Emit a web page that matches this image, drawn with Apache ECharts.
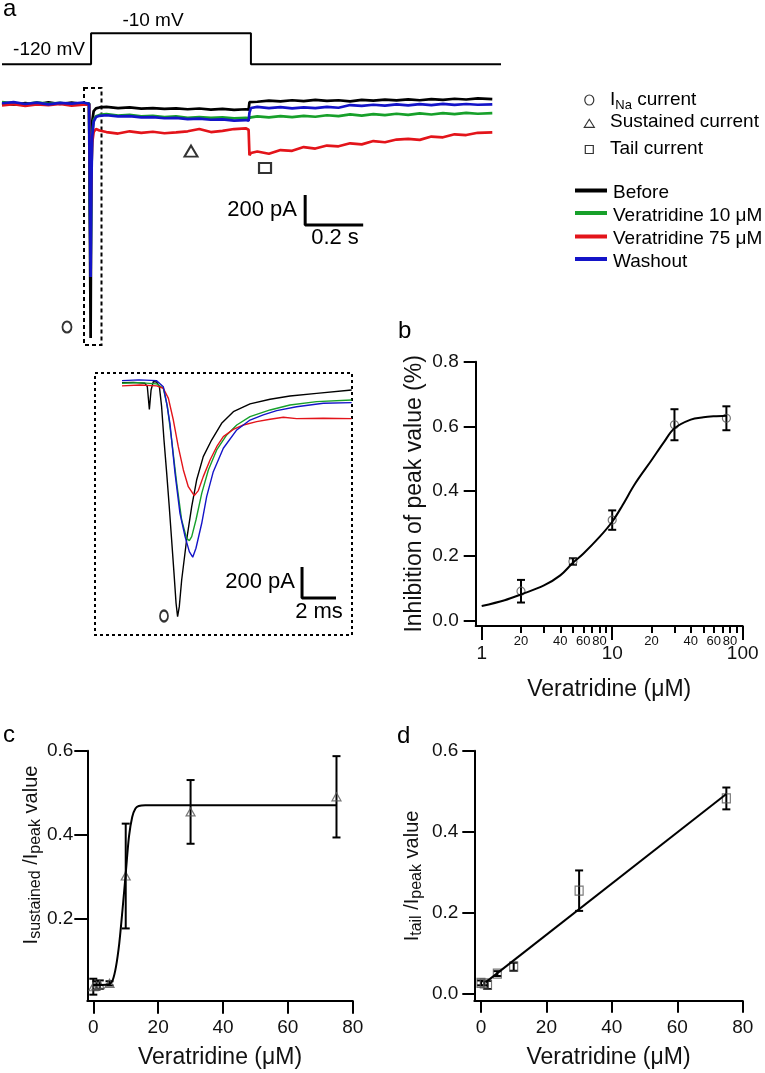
<!DOCTYPE html>
<html><head><meta charset="utf-8">
<script src="https://cdn.jsdelivr.net/npm/echarts@6/dist/echarts.min.js"></script>
<style>html,body{margin:0;padding:0;background:#fff}#c{width:765px;height:1073px}</style>
</head><body><div id="c"></div><script>
const FF = '"Liberation Sans", Arial, Helvetica, sans-serif';

// ---------- Panel a: voltage protocol (s, mV)
const protocolT = [0, 0.307, 0.307, 0.858, 0.858, 1.72];
const protocolV = [-120, -120, -10, -10, -120, -120];

// ---------- Panel a: whole-sweep currents (time s, current pA)
const traceT = [0, 0.04, 0.08, 0.12, 0.16, 0.20, 0.24, 0.28, 0.300,
  0.303, 0.3055, 0.308, 0.311, 0.316, 0.324, 0.336,
  0.36, 0.40, 0.44, 0.48, 0.52, 0.56, 0.60, 0.64, 0.68, 0.72, 0.76, 0.80, 0.84, 0.850,
  0.853, 0.858, 0.88, 0.92, 0.96, 1.00, 1.04, 1.08, 1.12, 1.16, 1.20, 1.24, 1.28, 1.32, 1.36, 1.40, 1.44, 1.48, 1.52, 1.56, 1.60, 1.64, 1.69];
const beforeI = [5, -8, 3, -5, 8, -3, 6, -4, 2,
  0, -1563, -400, -120, -50, -32, -26,
  -22, -30, -26, -34, -30, -36, -32, -38, -33, -40, -35, -42, -38, -40,
  10, 18, 12, 20, 14, 22, 16, 24, 18, 22, 15, 24, 20, 26, 21, 28, 22, 30, 25, 32, 27, 34, 30];
const vera10I = [10, 2, -6, 8, -2, 5, -7, 3, 0,
  0, -1055, -500, -200, -110, -85, -76,
  -70, -80, -76, -85, -82, -90, -86, -95, -90, -96, -92, -98, -95, -97,
  -95, -92, -85, -92, -84, -90, -82, -88, -78, -84, -72, -80, -70, -77, -68, -75, -66, -73, -64, -70, -62, -68, -64];
const vera75I = [-12, -4, -15, -6, -10, -3, -14, -8, -5,
  0, -755, -450, -260, -190, -170, -180,
  -190, -200, -185, -195, -188, -198, -192, -185, -170, -190, -182, -170, -165, -175,
  -345, -330, -320, -335, -310, -315, -290, -300, -280, -285, -265, -272, -250, -258, -240, -235, -242, -220, -225, -205, -210, -195, -192];
const washoutI = [2, 9, -3, 6, -6, 4, 0, 7, -2,
  0, -1157, -550, -220, -120, -90, -82,
  -78, -86, -84, -92, -90, -98, -96, -104, -100, -108, -106, -114, -110, -115,
  -60, -30, -22, -30, -24, -32, -25, -30, -22, -28, -10, -16, -8, -14, -6, -12, -4, -10, -2, -9, -3, -8, -5];

// ---------- Panel a inset: peak currents (time ms, current pA)
const insBeforeT = [0, 0.67, 1.35, 1.49, 1.61, 1.71, 1.84, 2.04, 2.20, 2.33, 2.47, 2.63, 2.78, 2.92, 3.06, 3.18, 3.27, 3.37, 3.51, 3.80, 4.10, 4.39, 4.78, 5.27, 5.86, 6.55, 7.53, 8.71, 9.88, 11.45, 13.51];
const insBeforeI = [2, 4, -2, -24, -170, -45, 9, 6, -24, -153, -368, -583, -798, -1013, -1228, -1421, -1507, -1443, -1271, -1013, -798, -626, -475, -368, -260, -185, -135, -105, -84, -67, -45];
const insVera10T = [0, 1.0, 2.04, 2.43, 2.67, 2.92, 3.22, 3.51, 3.80, 3.96, 4.10, 4.35, 4.69, 5.08, 5.57, 6.16, 6.75, 7.53, 8.71, 9.88, 11.45, 13.51];
const insVera10I = [-2, 2, -6, -34, -153, -368, -647, -884, -1002, -1017, -991, -884, -712, -561, -432, -335, -271, -217, -174, -142, -120, -110];
const insVera75T = [0, 1.06, 2.04, 2.43, 2.73, 3.02, 3.31, 3.61, 3.90, 4.25, 4.49, 4.78, 5.18, 5.57, 5.96, 6.55, 7.14, 7.92, 8.71, 9.49, 10.27, 11.84, 13.51];
const insVera75I = [-19, -13, -19, -34, -99, -239, -411, -561, -669, -727, -694, -604, -497, -411, -346, -299, -271, -249, -234, -221, -230, -228, -230];
const insWashT = [0, 1.0, 2.04, 2.43, 2.63, 2.82, 3.12, 3.41, 3.71, 3.96, 4.16, 4.35, 4.69, 4.98, 5.37, 5.96, 6.75, 7.53, 8.31, 9.10, 10.27, 11.84, 13.51];
const insWashI = [15, 20, 15, -24, -131, -260, -583, -841, -991, -1088, -1124, -1066, -905, -733, -572, -421, -303, -239, -206, -178, -153, -131, -127];

// scale bars: [origin time, origin current, time length, current length]
const scaleMain = [1.045, -810, 0.2, 200];
const scaleInset = [10.59, -1387, 2, 200];

// ---------- Panel b
const concB = [2, 5, 10, 30, 75];
const inhibB = [0.09, 0.182, 0.31, 0.605, 0.625];
const errB = [0.035, 0.01, 0.03, 0.048, 0.037];
const fitBx = [1, 1.5, 2, 3, 4, 5, 6, 8, 10, 12, 15, 20, 25, 30, 40, 50, 60, 75];
const fitBy = [0.044, 0.062, 0.080, 0.108, 0.139, 0.178, 0.206, 0.258, 0.305, 0.356, 0.423, 0.495, 0.552, 0.594, 0.621, 0.628, 0.631, 0.633];
const bMajorTicks = [1, 10, 100];
const bMinorTicks = [2, 3, 4, 5, 6, 7, 8, 9, 20, 30, 40, 50, 60, 70, 80, 90];
const bMinorLabels = [2, 4, 6, 8, 20, 40, 60, 80];
const bYTicks = [0, 0.2, 0.4, 0.6, 0.8];

// ---------- Panel c
const concC = [0, 1, 2, 5, 10, 30, 75];
const sustC = [0.037, 0.040, 0.042, 0.045, 0.301, 0.454, 0.490];
const errC = [0.019, 0.01, 0.01, 0.005, 0.125, 0.076, 0.097];
const fitCx = [0, 2, 4, 5, 6, 7, 8, 9, 10, 11, 12, 13, 14, 16, 20, 40, 75];
const fitCy = [0.041, 0.041, 0.042, 0.043, 0.053, 0.085, 0.14, 0.22, 0.307, 0.395, 0.442, 0.462, 0.468, 0.470, 0.470, 0.470, 0.470];
const cYTicks = [0.2, 0.4, 0.6];

// ---------- Panel d
const concD = [0, 1, 2, 5, 10, 30, 75];
const tailD = [0.026, 0.025, 0.021, 0.049, 0.066, 0.254, 0.482];
const errD = [0.006, 0.005, 0.01, 0.006, 0.01, 0.05, 0.027];
const fitDx = [1.5, 75];
const fitDy = [0.028, 0.493];
const dYTicks = [0, 0.2, 0.4, 0.6];
const concTicks = [0, 20, 40, 60, 80];

const legendNames = ['Before', 'Veratridine 10 μM', 'Veratridine 75 μM', 'Washout'];
const colors = ['#000000', '#17a02a', '#e3141a', '#1414c8'];

// ---------------------------------------------------------------
const zip = (xs, ys) => xs.map((x, i) => [x, ys[i]]);
const chart = echarts.init(document.getElementById('c'), null, {renderer: 'canvas'});

const hidX = (g, min, max) => ({gridIndex: g, type: 'value', min, max, show: false});
const axLine = {show: true, onZero: false, lineStyle: {color: '#000', width: 2}};
const tickLS = {color: '#000', width: 2};
const lab = {fontFamily: FF, fontSize: 19, color: '#111'};
const nameTS = {fontFamily: FF, fontSize: 23, color: '#111'};
const fmt1 = v => Number(v).toFixed(1);

function errRender(params, api) {
  const x = api.value(0), lo = api.value(1), hi = api.value(2);
  const p1 = api.coord([x, hi]), p2 = api.coord([x, lo]);
  const w = 4;
  const st = {stroke: '#000', lineWidth: 2};
  return {type: 'group', children: [
    {type: 'line', shape: {x1: p1[0], y1: p1[1], x2: p2[0], y2: p2[1]}, style: st},
    {type: 'line', shape: {x1: p1[0] - w, y1: p1[1], x2: p1[0] + w, y2: p1[1]}, style: st},
    {type: 'line', shape: {x1: p2[0] - w, y1: p2[1], x2: p2[0] + w, y2: p2[1]}, style: st}
  ]};
}
const errData = (xs, ys, es) => xs.map((x, i) => [x, ys[i] - es[i], ys[i] + es[i]]);

const lineS = (xi, yi, data, color, width, extra) => Object.assign({
  type: 'line', xAxisIndex: xi, yAxisIndex: yi, data, showSymbol: false, symbol: 'none',
  lineStyle: {color, width}, itemStyle: {color}, animation: false, silent: true
}, extra || {});

const scaleBar = (s) => [[s[0] + s[2], s[1]], [s[0], s[1]], [s[0], s[1] + s[3]]];

const markerStyle = {color: 'rgba(0,0,0,0)', borderColor: '#000', borderWidth: 2};

const series = [
  lineS(0, 0, zip(protocolT, protocolV), '#000', 2),
  lineS(1, 1, zip(traceT, beforeI), colors[0], 2.7),
  lineS(1, 1, zip(traceT, vera10I), colors[1], 2.7),
  lineS(1, 1, zip(traceT, vera75I), colors[2], 2.7),
  lineS(1, 1, zip(traceT, washoutI), colors[3], 2.7),
  lineS(1, 1, scaleBar(scaleMain), '#000', 3),
  {type: 'scatter', xAxisIndex: 1, yAxisIndex: 1, silent: true, animation: false,
   itemStyle: markerStyle,
   data: [
     {value: [0.224, -1490], symbol: 'circle', symbolSize: [9, 11]},
     {value: [0.6515, -317], symbol: 'triangle', symbolSize: [13, 11]},
     {value: [0.9066, -430], symbol: 'rect', symbolSize: [12, 10]}
   ]},
  lineS(2, 2, zip(insBeforeT, insBeforeI), colors[0], 1.4),
  lineS(2, 2, zip(insVera10T, insVera10I), colors[1], 1.4),
  lineS(2, 2, zip(insVera75T, insVera75I), colors[2], 1.4),
  lineS(2, 2, zip(insWashT, insWashI), colors[3], 1.4),
  lineS(2, 2, scaleBar(scaleInset), '#000', 3),
  {type: 'scatter', xAxisIndex: 2, yAxisIndex: 2, silent: true, animation: false,
   itemStyle: markerStyle, data: [{value: [2.47, -1503], symbol: 'circle', symbolSize: [8, 11]}]},
  // panel b
  lineS(3, 3, zip(fitBx, fitBy), '#000', 2, {smooth: 0.35}),
  {type: 'custom', xAxisIndex: 3, yAxisIndex: 3, renderItem: errRender, data: errData(concB, inhibB, errB), animation: false, silent: true},
  {type: 'scatter', xAxisIndex: 3, yAxisIndex: 3, symbol: 'circle', symbolSize: 8, data: zip(concB, inhibB), animation: false, silent: true,
   itemStyle: {color: 'rgba(0,0,0,0)', borderColor: '#555', borderWidth: 1.2}},
  // panel c
  lineS(5, 4, zip(fitCx, fitCy), '#000', 2, {smooth: 0.3}),
  {type: 'custom', xAxisIndex: 5, yAxisIndex: 4, renderItem: errRender, data: errData(concC, sustC, errC), animation: false, silent: true},
  {type: 'scatter', xAxisIndex: 5, yAxisIndex: 4, symbol: 'triangle', symbolSize: [9, 8], data: zip(concC, sustC), animation: false, silent: true,
   itemStyle: {color: 'rgba(0,0,0,0)', borderColor: '#555', borderWidth: 1.2}},
  // panel d
  lineS(6, 5, zip(fitDx, fitDy), '#000', 2),
  {type: 'custom', xAxisIndex: 6, yAxisIndex: 5, renderItem: errRender, data: errData(concD, tailD, errD), animation: false, silent: true},
  {type: 'scatter', xAxisIndex: 6, yAxisIndex: 5, symbol: 'rect', symbolSize: [8, 9], data: zip(concD, tailD), animation: false, silent: true,
   itemStyle: {color: 'rgba(0,0,0,0)', borderColor: '#555', borderWidth: 1.2}}
];

const subRich = (main, sub) => ({
  m: {fontFamily: FF, fontSize: main, lineHeight: 26, fill: '#111', color: '#111', verticalAlign: 'middle'},
  s: {fontFamily: FF, fontSize: sub, lineHeight: 12, fill: '#111', color: '#111', verticalAlign: 'bottom'}
});

const txt = (x, y, text, size, align, extra) => ({
  type: 'text', x, y, silent: true,
  style: Object.assign({text, fill: '#000', fontFamily: FF, fontSize: size,
    align: align || 'left', textAlign: align || 'left', verticalAlign: 'middle', textVerticalAlign: 'middle'}, extra || {})
});
const vTitle = (x, y, text) => ({
  type: 'text', x, y, rotation: Math.PI / 2, silent: true,
  style: {text, align: 'center', verticalAlign: 'middle', rich: subRich(20, 16)}
});

const graphics = [
  txt(3, 9, 'a', 24), txt(398, 331, 'b', 24), txt(3, 735, 'c', 24), txt(397, 736, 'd', 24),
  txt(153, 21, '-10 mV', 19, 'center'), txt(49, 50, '-120 mV', 19, 'center'),
  txt(297, 210, '200 pA', 22, 'right'), txt(335, 238, '0.2 s', 22, 'center'),
  txt(295, 582, '200 pA', 22, 'right'), txt(319, 612, '2 ms', 22, 'center'),
  {type: 'rect', silent: true, shape: {x: 84, y: 88, width: 17.5, height: 257},
   style: {fill: 'none', stroke: '#000', lineWidth: 2, lineDash: [4, 3]}},
  {type: 'rect', silent: true, shape: {x: 95, y: 373, width: 257, height: 262},
   style: {fill: 'none', stroke: '#000', lineWidth: 2, lineDash: [3, 3]}},
  // symbol legend
  {type: 'ellipse', silent: true, shape: {cx: 589.3, cy: 100, rx: 4.5, ry: 5}, style: {fill: 'none', stroke: '#333', lineWidth: 1.2}},
  {type: 'polygon', silent: true, shape: {points: [[584.3, 127.3], [594.3, 127.3], [589.3, 119.3]]}, style: {fill: 'none', stroke: '#333', lineWidth: 1.2}},
  {type: 'rect', silent: true, shape: {x: 585.3, y: 145.5, width: 8, height: 8}, style: {fill: 'none', stroke: '#333', lineWidth: 1.2}},
  {type: 'text', x: 610, y: 100, silent: true, style: {text: '{m|I}{s|Na}{m| current}', align: 'left', verticalAlign: 'middle',
    rich: {m: {fontFamily: FF, fontSize: 19, lineHeight: 24, fill: '#000', verticalAlign: 'middle'},
           s: {fontFamily: FF, fontSize: 13, lineHeight: 10, fill: '#000', verticalAlign: 'bottom'}}}},
  txt(610, 122, 'Sustained current', 19), txt(610, 148.5, 'Tail current', 19),
  vTitle(31, 855, '{m|I}{s|sustained}{m| /I}{s|peak}{m| value}'),
  vTitle(412, 876, '{m|I}{s|tail}{m| /I}{s|peak}{m| value}')
];
const legY = [190.5, 213, 236.5, 259];
legendNames.forEach((n, i) => {
  graphics.push({type: 'line', silent: true, shape: {x1: 575, y1: legY[i], x2: 607, y2: legY[i]}, style: {stroke: colors[i], lineWidth: 4}});
  graphics.push(txt(613, legY[i] + 2.5, n, 19));
});

const option = {
  animation: false,
  backgroundColor: '#fff',
  grid: [
    {left: 2, top: 30.5, width: 499, height: 36.6},
    {left: 2, top: 80, width: 499, height: 265},
    {left: 94.8, top: 372.9, width: 256.7, height: 262},
    {left: 475.7, top: 361.7, width: 267, height: 264.3},
    {left: 87.3, top: 750.7, width: 265.4, height: 250},
    {left: 474.3, top: 750.7, width: 268.4, height: 250}
  ],
  xAxis: [
    hidX(0, 0, 1.72),
    hidX(1, 0, 1.72),
    hidX(2, -1.6, 13.5),
    {gridIndex: 3, type: 'log', logBase: 10, min: 0.8995, max: 100, position: 'bottom',
     axisLine: axLine,
     axisTick: {show: true, length: 14, lineStyle: tickLS, customValues: bMajorTicks},
     axisLabel: Object.assign({}, lab, {margin: 18, customValues: bMajorTicks, formatter: v => String(Math.round(v))}),
     splitLine: {show: false}, minorTick: {show: false},
     name: 'Veratridine (μM)', nameLocation: 'middle', nameGap: 52, nameTextStyle: nameTS},
    {gridIndex: 3, type: 'log', logBase: 10, min: 0.8995, max: 100, position: 'bottom',
     axisLine: {show: false, onZero: false},
     axisTick: {show: true, length: 7, lineStyle: tickLS, customValues: bMinorTicks},
     axisLabel: {fontFamily: FF, fontSize: 13, color: '#111', margin: 9, customValues: bMinorLabels,
       formatter: v => v < 10 ? String(Math.round(v * 10)) : String(Math.round(v))},
     splitLine: {show: false}, minorTick: {show: false}},
    {gridIndex: 4, type: 'value', min: -1.85, max: 80,
     axisLine: axLine,
     axisTick: {show: true, length: 13, lineStyle: tickLS, customValues: concTicks},
     axisLabel: Object.assign({}, lab, {margin: 18, customValues: concTicks}),
     splitLine: {show: false},
     name: 'Veratridine (μM)', nameLocation: 'middle', nameGap: 45, nameTextStyle: nameTS},
    {gridIndex: 5, type: 'value', min: -2.04, max: 80,
     axisLine: axLine,
     axisTick: {show: true, length: 12, lineStyle: tickLS, customValues: concTicks},
     axisLabel: Object.assign({}, lab, {margin: 18, customValues: concTicks}),
     splitLine: {show: false},
     name: 'Veratridine (μM)', nameLocation: 'middle', nameGap: 45, nameTextStyle: nameTS}
  ],
  yAxis: [
    {gridIndex: 0, type: 'value', min: -130, max: 0, show: false},
    {gridIndex: 1, type: 'value', min: -1610, max: 157, show: false},
    {gridIndex: 2, type: 'value', min: -1625, max: 65, show: false},
    {gridIndex: 3, type: 'value', min: -0.0176, max: 0.8,
     axisLine: axLine,
     axisTick: {show: true, length: 12, lineStyle: tickLS, customValues: bYTicks},
     axisLabel: Object.assign({}, lab, {margin: 17, customValues: bYTicks, formatter: fmt1}),
     splitLine: {show: false},
     name: 'Inhibition of peak value (%)', nameLocation: 'middle', nameGap: 50, nameTextStyle: nameTS},
    {gridIndex: 4, type: 'value', min: 0.0036, max: 0.6,
     axisLine: axLine,
     axisTick: {show: true, length: 13, lineStyle: tickLS, customValues: cYTicks},
     axisLabel: Object.assign({}, lab, {margin: 14, customValues: cYTicks, formatter: fmt1}),
     splitLine: {show: false}},
    {gridIndex: 5, type: 'value', min: -0.018, max: 0.6,
     axisLine: axLine,
     axisTick: {show: true, length: 12, lineStyle: tickLS, customValues: dYTicks},
     axisLabel: Object.assign({}, lab, {margin: 16, customValues: dYTicks, formatter: fmt1}),
     splitLine: {show: false}}
  ],
  series,
  graphic: {elements: graphics}
};
chart.setOption(option);
</script></body></html>
